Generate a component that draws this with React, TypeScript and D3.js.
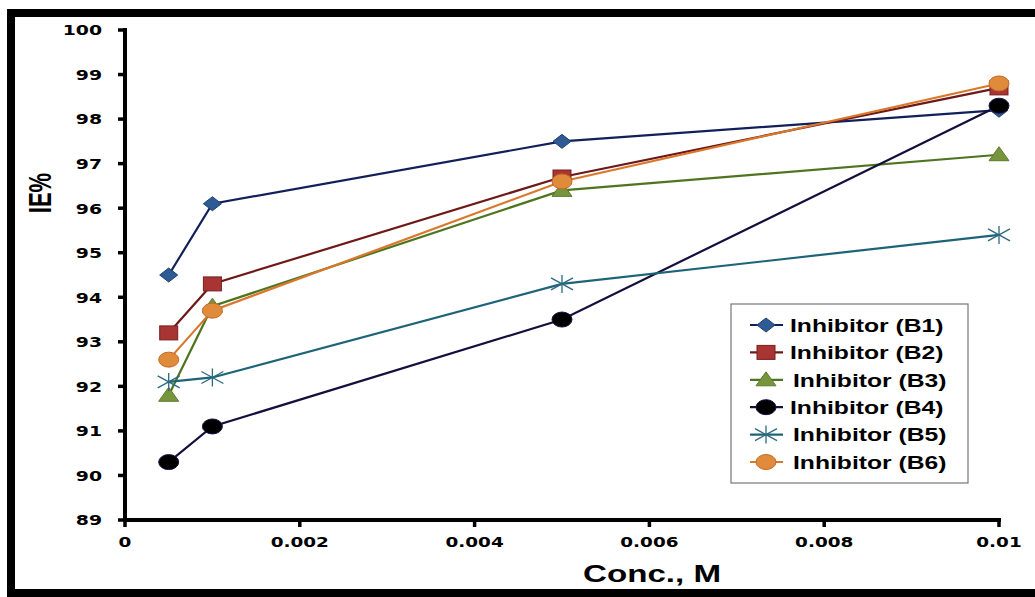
import React from "react";
import * as d3 from "d3";

const concentrations = [0.0005, 0.001, 0.005, 0.01];
const seriesNames = ["Inhibitor (B1)", "Inhibitor (B2)", "Inhibitor (B3)", "Inhibitor (B4)", "Inhibitor (B5)", "Inhibitor (B6)"];
const b1 = [94.5, 96.1, 97.5, 98.2];
const b2 = [93.2, 94.3, 96.7, 98.7];
const b3 = [91.8, 93.8, 96.4, 97.2];
const b4 = [90.3, 91.1, 93.5, 98.3];
const b5 = [92.1, 92.2, 94.3, 95.4];
const b6 = [92.6, 93.7, 96.6, 98.8];
const xTicks = [0, 0.002, 0.004, 0.006, 0.008, 0.01];
const xTickLabels = ["0", "0.002", "0.004", "0.006", "0.008", "0.01"];
const yTicks = [89, 90, 91, 92, 93, 94, 95, 96, 97, 98, 99, 100];

const styles = [
  { line: "#12205a", fill: "#2f5b94", stroke: "#1f3f70", marker: "diamond" },
  { line: "#6e1818", fill: "#a83434", stroke: "#7a1f1f", marker: "square" },
  { line: "#4f7420", fill: "#77953d", stroke: "#5c7a2c", marker: "triangle" },
  { line: "#140f3c", fill: "#000000", stroke: "#1a1040", marker: "circle" },
  { line: "#1e6478", fill: "none", stroke: "#2a6a80", marker: "star" },
  { line: "#d9782c", fill: "#e08a3c", stroke: "#c26a25", marker: "circleO" },
];
const allValues = [b1, b2, b3, b4, b5, b6];

function Marker({ type, x, y, s }: { type: string; x: number; y: number; s: any }) {
  if (type === "diamond") {
    const r = 7;
    return <path d={`M${x},${y - r}L${x + r + 2},${y}L${x},${y + r}L${x - r - 2},${y}Z`} fill={s.fill} stroke={s.stroke} strokeWidth={1} />;
  }
  if (type === "square") {
    return <rect x={x - 9} y={y - 7} width={18} height={14} fill={s.fill} stroke={s.stroke} strokeWidth={1} />;
  }
  if (type === "triangle") {
    return <path d={`M${x},${y - 8}L${x + 10},${y + 6}L${x - 10},${y + 6}Z`} fill={s.fill} stroke={s.stroke} strokeWidth={1} />;
  }
  if (type === "circle" || type === "circleO") {
    return <ellipse cx={x} cy={y} rx={10} ry={7.5} fill={s.fill} stroke={s.stroke} strokeWidth={1} />;
  }
  const r = 11;
  return (
    <g stroke={s.stroke} strokeWidth={1.3}>
      <line x1={x - r} y1={y - 6} x2={x + r} y2={y + 6} />
      <line x1={x - r} y1={y + 6} x2={x + r} y2={y - 6} />
      <line x1={x} y1={y - 9} x2={x} y2={y + 9} />
    </g>
  );
}

function SText({ x, y, sx, anchor, size, font, children, dy }: any) {
  return (
    <text transform={`translate(${x},${y}) scale(${sx},1)`} dy={dy} textAnchor={anchor} fontFamily={font} fontWeight="bold" fontSize={size} fill="#000">{children}</text>
  );
}

export default function App() {
  const W = 1035, H = 597;
  const x = d3.scaleLinear().domain([0, 0.01]).range([125, 999]);
  const y = d3.scaleLinear().domain([89, 100]).range([520, 30]);
  const line = d3.line<number>().x((_, i) => x(concentrations[i])).y((d) => y(d));
  const tickFont = "'DejaVu Sans', Verdana, sans-serif";
  const titleFont = "'Liberation Sans', Arial, sans-serif";

  const legX = 731, legY = 304, legW = 237, legH = 179;
  const legRowY = (i: number) => 325 + i * 27.4;

  return (
    <svg width={W} height={H} style={{ position: "absolute", left: 0, top: 0 }}>
      <rect x={0} y={0} width={W} height={H} fill="#fff" />
      <rect x={7} y={9} width={W + 20} height={8} fill="#000" />
      <rect x={7} y={9} width={8} height={H} fill="#000" />
      <rect x={7} y={589} width={W} height={8} fill="#000" />

      <line x1={125} y1={28} x2={125} y2={522} stroke="#000" strokeWidth={4} />
      <line x1={123} y1={520} x2={1001} y2={520} stroke="#000" strokeWidth={4} />
      {yTicks.map((t) => (
        <g key={t}>
          <line x1={118} x2={125} y1={y(t)} y2={y(t)} stroke="#000" strokeWidth={3.5} />
          <SText x={102} y={y(t)} dy="0.37em" sx={1.3} anchor="end" size={14.5} font={tickFont}>{t}</SText>
        </g>
      ))}
      {xTicks.map((t, i) => (
        <g key={t}>
          <line x1={x(t)} x2={x(t)} y1={520} y2={527} stroke="#000" strokeWidth={3.5} />
          <SText x={x(t)} y={547} sx={1.27} anchor="middle" size={14.5} font={tickFont}>{xTickLabels[i]}</SText>
        </g>
      ))}
      <SText x={652} y={582} sx={1.38} anchor="middle" size={24} font={titleFont}>Conc., M</SText>
      <text transform="translate(51,193) rotate(-90) scale(1,1.4)" textAnchor="middle" fontFamily={titleFont} fontWeight="bold" fontSize={22} fill="#000">IE%</text>

      {allValues.map((vals, si) => (
        <path key={si} d={line(vals) || ""} fill="none" stroke={styles[si].line} strokeWidth={2.2} />
      ))}
      {allValues.map((vals, si) => (
        <g key={"m" + si}>
          {vals.map((v, i) => (
            <Marker key={i} type={styles[si].marker} x={x(concentrations[i])} y={y(v)} s={styles[si]} />
          ))}
        </g>
      ))}

      <rect x={legX} y={legY} width={legW} height={legH} fill="#fff" stroke="#777" strokeWidth={1.2} />
      {seriesNames.map((n, i) => {
        const ly = legRowY(i);
        return (
          <g key={n}>
            <line x1={750} x2={783} y1={ly} y2={ly} stroke={styles[i].line} strokeWidth={2.2} />
            <Marker type={styles[i].marker} x={766} y={ly} s={styles[i]} />
            <SText x={i === 4 || i === 5 || i === 2 ? 793 : 790} y={ly} dy="0.36em" sx={1.3} anchor="start" size={19} font={titleFont}>{n}</SText>
          </g>
        );
      })}
    </svg>
  );
}
